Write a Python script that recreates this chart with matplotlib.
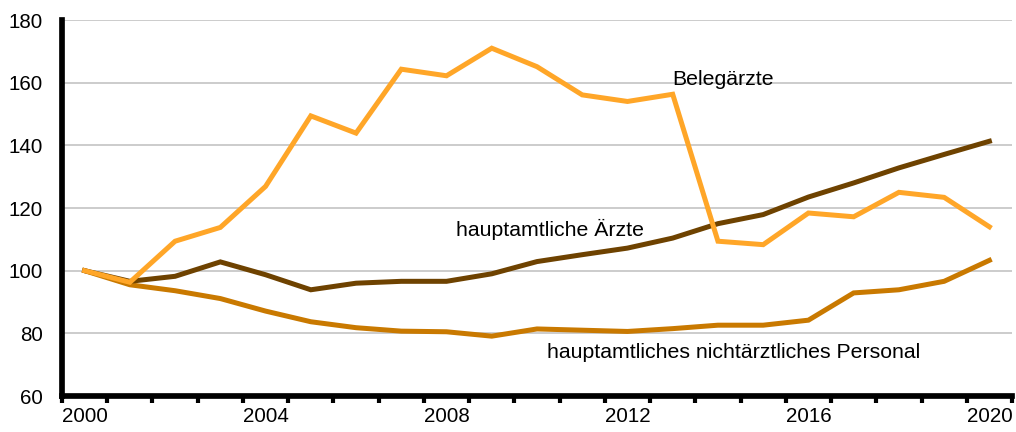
import matplotlib
matplotlib.use("Agg")
import matplotlib.pyplot as plt
import numpy as np

years = list(range(2000, 2021))
belegaerzte = [100, 96.3, 109.4, 113.8, 126.9, 149.4, 143.9, 164.3, 162.2, 171.0, 165.1,
               156.1, 154.0, 156.3, 109.4, 108.3, 118.4, 117.2, 125.0, 123.4, 114.0]
aerzte = [100, 96.6, 98.2, 102.8, 98.7, 93.9, 96.0, 96.6, 96.6, 99.0, 102.9,
          105.1, 107.2, 110.4, 115.0, 117.9, 123.5, 128.0, 132.8, 137.1, 141.3]
personal = [100, 95.5, 93.6, 91.1, 87.1, 83.7, 81.8, 80.7, 80.5, 79.1, 81.4,
            81.0, 80.6, 81.5, 82.6, 82.6, 84.2, 92.9, 93.9, 96.6, 103.3]
yticks = [60, 80, 100, 120, 140, 160, 180]
xlabel_years = [2000, 2004, 2008, 2012, 2016, 2020]

plt.rcParams['font.family'] = ['Liberation Sans', 'DejaVu Sans']

fig = plt.figure(figsize=(10.16, 4.32), dpi=100)
ax = fig.add_axes([62/1016, 1 - 396/432, 950/1016, 376/432])

x = np.arange(len(years))
ax.plot(x, personal, color='#C97900', lw=3.6, solid_joinstyle='miter', zorder=3)
ax.plot(x, aerzte, color='#6E4200', lw=3.6, solid_joinstyle='miter', zorder=4)
ax.plot(x, belegaerzte, color='#FFA628', lw=3.6, solid_joinstyle='miter', zorder=5)

ax.set_xlim(-0.5, len(years) - 0.5)
ax.set_ylim(60, 180)
ax.set_yticks(yticks)
ax.yaxis.grid(True, color='#BFBFBF', lw=1.1)
ax.set_axisbelow(True)
ax.tick_params(axis='y', length=0, labelsize=14.8, pad=14)

pos = [years.index(y) for y in xlabel_years]
ax.set_xticks(pos)
ax.set_xticklabels([str(y) for y in xlabel_years])
ax.set_xticks(np.arange(-0.5, len(years)), minor=True)
ax.tick_params(axis='x', which='major', length=0, labelsize=14.8, pad=8)
ax.tick_params(axis='x', which='minor', length=5, width=3, direction='out', color='black')

for s in ['top', 'right']:
    ax.spines[s].set_visible(False)
ax.spines['left'].set_linewidth(4.1)
ax.spines['bottom'].set_linewidth(4.1)

ax.text(12.98, 160.9, 'Belegärzte', fontsize=15.3, va='center', ha='left')
ax.text(8.21, 113.2, 'hauptamtliche Ärzte', fontsize=15.3, va='center', ha='left')
ax.text(10.22, 74.0, 'hauptamtliches nichtärztliches Personal', fontsize=15.3, va='center', ha='left')

fig.savefig('out.png', dpi=100)
